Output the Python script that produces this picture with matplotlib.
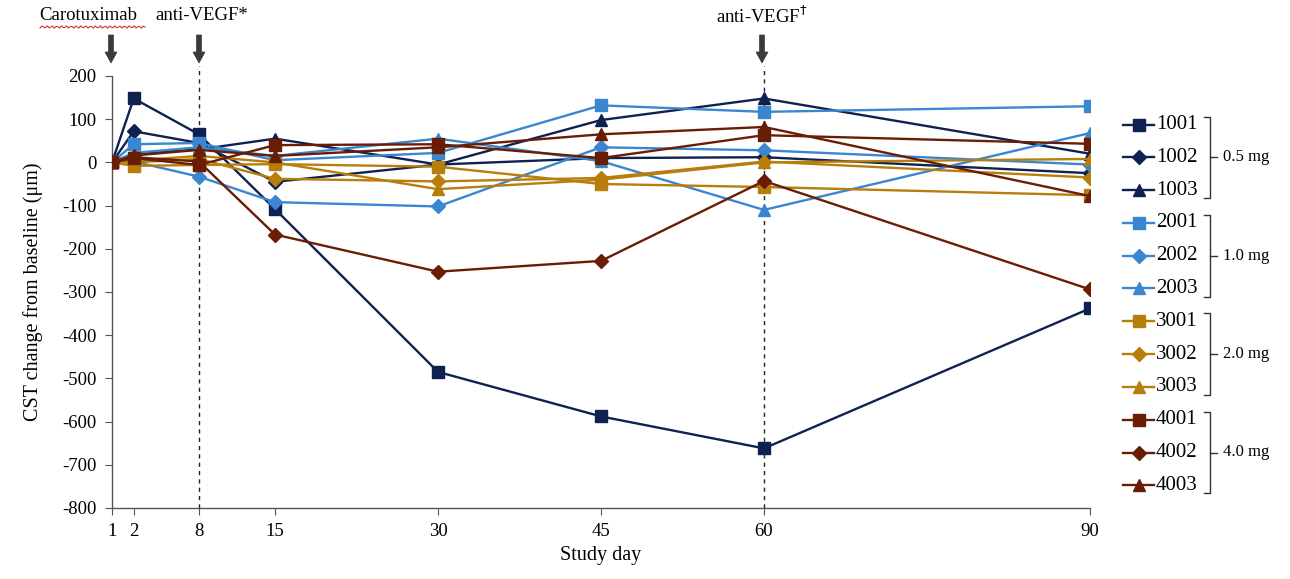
import matplotlib
matplotlib.use("Agg")
import matplotlib.pyplot as plt
from matplotlib.lines import Line2D
from matplotlib.patches import Polygon
import numpy as np

plt.rcParams['font.family'] = ['Liberation Serif', 'DejaVu Serif']
plt.rcParams['axes.unicode_minus'] = False

# ---------------- data ----------------
day_positions = [0, 2, 8, 15, 30, 45, 60, 90]
day_labels = ['1', '2', '8', '15', '30', '45', '60', '90']

patients = ['1001', '1002', '1003', '2001', '2002', '2003',
            '3001', '3002', '3003', '4001', '4002', '4003']
dose_groups = ['0.5 mg', '1.0 mg', '2.0 mg', '4.0 mg']

s1001 = [0, 148, 65, -108, -485, -588, -662, -338]
s1002 = [0, 72, 45, -45, -5, 10, 12, -25]
s1003 = [0, 20, 30, 55, -5, 98, 148, 20]
s2001 = [0, 42, 45, 5, 22, 132, 117, 130]
s2002 = [0, 2, -33, -92, -102, 35, 28, -5]
s2003 = [0, 22, 35, 15, 55, 3, -110, 68]
s3001 = [0, -8, -6, -4, -10, -50, -57, -76]
s3002 = [0, 0, 8, -38, -44, -36, 2, -35]
s3003 = [0, 4, 15, 0, -62, -40, 0, 8]
s4001 = [0, 10, -6, 40, 42, 10, 63, 43]
s4002 = [0, 12, 2, -167, -253, -228, -43, -294]
s4003 = [0, 16, 29, 15, 35, 65, 82, -78]

series = [s1001, s1002, s1003, s2001, s2002, s2003,
          s3001, s3002, s3003, s4001, s4002, s4003]

group_colors = ['#0f2150', '#3a86d0', '#b77e0c', '#6a1d05']
markers = ['s', 'D', '^']
msize = {'s': 8, 'D': 7.5, '^': 8.5}

W, H = 1290, 579
fig = plt.figure(figsize=(W / 100, H / 100), dpi=100)


def fx(x):
    return np.asarray(x) / W


def fy(y):
    return 1 - np.asarray(y) / H


ax = fig.add_axes([fx(112), fy(508), fx(1090) - fx(112), fy(76) - fy(508)])

for i, (name, vals) in enumerate(zip(patients, series)):
    c = group_colors[i // 3]
    m = markers[i % 3]
    ax.plot(day_positions, vals, color=c, marker=m, markersize=msize[m],
            linewidth=1.7, markeredgecolor=c, zorder=3)

# dashed vertical lines at anti-VEGF days
for d in [8, 60]:
    ax.plot([d, d], [-800, 222], color='#222222', linestyle=(0, (3, 3)),
            linewidth=1.0, clip_on=False, zorder=1)

ax.set_xlim(0, 90)
ax.set_ylim(-800, 200)
ax.set_xticks(day_positions)
ax.set_xticklabels(day_labels)
ax.set_yticks(np.arange(-800, 201, 100))
ax.spines['top'].set_visible(False)
ax.spines['right'].set_visible(False)
for s in ['left', 'bottom']:
    ax.spines[s].set_color('#555555')
    ax.spines[s].set_linewidth(1.0)
ax.tick_params(axis='both', labelsize=13.5, color='#555555', length=5,
               direction='out', pad=6)
ax.set_ylabel('CST change from baseline (μm)', fontsize=14.5, labelpad=14)
ax.set_xlabel('Study day', fontsize=14.5, labelpad=4)

# ---------------- top annotations ----------------
fig.text(fx(88), fy(16), 'Carotuximab', fontsize=13.5, ha='center', va='center')
fig.text(fx(202), fy(16), 'anti-VEGF*', fontsize=13.5, ha='center', va='center')
fig.text(fx(762), fy(16), 'anti-VEGF$^{\\dagger}$', fontsize=13.5, ha='center',
         va='center')

# red spell-check squiggle under Carotuximab
sx = np.linspace(40, 145, 60)
sy = 27 + 1.2 * np.sin(sx * 1.3)
fig.add_artist(Line2D(fx(sx), fy(sy), color='#e03030', linewidth=0.8))

for xa in [111, 199, 762]:
    px = [xa - 2.5, xa + 2.5, xa + 2.5, xa + 6, xa, xa - 6, xa - 2.5]
    py = [35, 35, 52, 52, 63, 52, 52]
    fig.add_artist(Polygon(np.column_stack([fx(px), fy(py)]), closed=True,
                           facecolor='#3a3a3a', edgecolor='#3a3a3a',
                           linewidth=0.5, transform=fig.transFigure))

# ---------------- custom legend ----------------
y0, dy = 124.5, 32.8
for i, name in enumerate(patients):
    c = group_colors[i // 3]
    m = markers[i % 3]
    yy = y0 + i * dy
    fig.add_artist(Line2D([fx(1123), fx(1154)], [fy(yy), fy(yy)], color=c,
                          linewidth=1.7))
    fig.add_artist(Line2D([fx(1138.5)], [fy(yy)], color=c, marker=m,
                          markersize=msize[m], linestyle='none',
                          markeredgecolor=c))
    fig.text(fx(1156), fy(yy), name, fontsize=15, ha='left', va='center')

for g, label in enumerate(dose_groups):
    ytop = y0 + 3 * g * dy - 8
    ybot = y0 + (3 * g + 2) * dy + 8
    ymid = (ytop + ybot) / 2
    xb = 1210
    fig.add_artist(Line2D([fx(xb - 6), fx(xb), fx(xb), fx(xb - 6)],
                          [fy(ytop), fy(ytop), fy(ybot), fy(ybot)],
                          color='#333333', linewidth=1.0))
    fig.add_artist(Line2D([fx(xb), fx(xb + 7)], [fy(ymid), fy(ymid)],
                          color='#333333', linewidth=1.0))
    fig.text(fx(1223), fy(ymid), label, fontsize=12, ha='left', va='center')

fig.savefig('out.png', dpi=100)
